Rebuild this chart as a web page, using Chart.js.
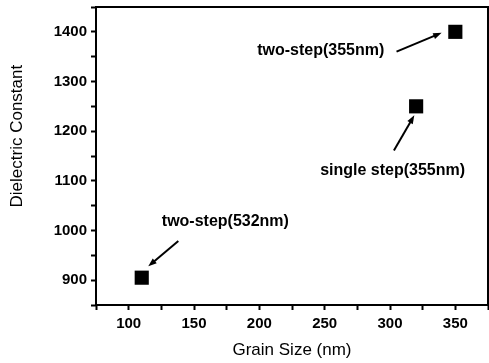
<!DOCTYPE html>
<html lang="en">
  <head>
    <meta charset="UTF-8" />
    <script src="https://cdn.jsdelivr.net/npm/chart.js@4"></script>
    <title>Dielectric constant vs grain size</title>
    <style>
      html, body { margin: 0; padding: 0; background: #fff; overflow: hidden; }
      /* canvas is a bit larger than the window: Chart.js keeps spare room on the
         right and on top for the tick labels, the original frame goes to the edge */
      #wrap { width: 489px; height: 363px; overflow: hidden; }
      #myChart { display: block; margin-top: -6px; }
    </style>
  </head>
  <body>
    <div id="wrap"><canvas id="myChart" width="498" height="369"></canvas></div>
    <script>
      // values
      const grainSize = [110, 320, 350];
      const dielectric = [905, 1250, 1400];
      const sampleNames = ["two-step(532nm)", "single step(355nm)", "two-step(355nm)"];
      // where each label sits and where its arrow runs (data units)
      const labelAt = [[174, 1017], [302, 1121], [247, 1362]];
      const arrowFrom = [[138, 979], [303, 1161], [305, 1360]];
      const arrowTo = [[115, 928], [318.6, 1232], [339.5, 1398]];
      const yTitle = "Dielectric Constant";

      const font = '"Liberation Sans", Arial, sans-serif';

      const frame = {
        id: "frame",
        afterDatasetsDraw(chart) {
          const { ctx, chartArea: a, scales } = chart;
          ctx.save();
          ctx.strokeStyle = "#000";
          ctx.lineWidth = 2;
          ctx.strokeRect(a.left, a.top, a.right - a.left, a.bottom - a.top);

          ctx.fillStyle = "#000";
          ctx.textAlign = "center";
          ctx.textBaseline = "middle";

          // y axis title, sits a bit above the middle in the original
          ctx.save();
          ctx.translate(17, scales.y.getPixelForValue(1190));
          ctx.rotate(-Math.PI / 2);
          ctx.font = "17px " + font;
          ctx.fillText(yTitle, 0, 0);
          ctx.restore();

          ctx.font = "bold 16px " + font;
          sampleNames.forEach((name, i) => {
            ctx.fillText(name, scales.x.getPixelForValue(labelAt[i][0]), scales.y.getPixelForValue(labelAt[i][1]));
            const x0 = scales.x.getPixelForValue(arrowFrom[i][0]);
            const y0 = scales.y.getPixelForValue(arrowFrom[i][1]);
            const x1 = scales.x.getPixelForValue(arrowTo[i][0]);
            const y1 = scales.y.getPixelForValue(arrowTo[i][1]);
            const ang = Math.atan2(y1 - y0, x1 - x0);
            ctx.lineWidth = 2;
            ctx.beginPath();
            ctx.moveTo(x0, y0);
            ctx.lineTo(x1 - 6 * Math.cos(ang), y1 - 6 * Math.sin(ang));
            ctx.stroke();
            ctx.beginPath();
            ctx.moveTo(x1, y1);
            ctx.lineTo(x1 - 9 * Math.cos(ang - 0.35), y1 - 9 * Math.sin(ang - 0.35));
            ctx.lineTo(x1 - 9 * Math.cos(ang + 0.35), y1 - 9 * Math.sin(ang + 0.35));
            ctx.closePath();
            ctx.fill();
          });
          ctx.restore();
        }
      };

      const ctx = document.getElementById("myChart").getContext("2d");
      new Chart(ctx, {
        type: "scatter",
        data: {
          datasets: [{
            data: grainSize.map((x, i) => ({ x: x, y: dielectric[i] })),
            pointStyle: "rect",
            pointRadius: 10,
            pointHoverRadius: 10,
            backgroundColor: "#000",
            borderColor: "#000",
            borderWidth: 0
          }]
        },
        options: {
          responsive: false,
          animation: false,
          events: [],
          layout: { padding: { top: 7, right: 1, left: 0, bottom: 2 } },
          plugins: { legend: { display: false }, tooltip: { enabled: false } },
          scales: {
            x: {
              type: "linear",
              min: 75,
              max: 375,
              afterFit(s) { s.height = 56; },
              border: { display: false },
              grid: { drawOnChartArea: false, tickLength: 5, tickWidth: 2, tickColor: "#000" },
              ticks: {
                stepSize: 25,
                autoSkip: false,
                maxRotation: 0,
                padding: 5,
                color: "#000",
                font: { family: font, size: 15, weight: "bold" },
                callback: v => (v % 50 === 0 && v > 75 && v < 375 ? v : "")
              },
              title: {
                display: true,
                text: "Grain Size (nm)",
                color: "#000",
                padding: { top: 2, bottom: 0 },
                font: { family: font, size: 17 }
              }
            },
            y: {
              type: "linear",
              min: 850,
              max: 1450,
              afterFit(s) { s.width = 96; },
              border: { display: false },
              grid: { drawOnChartArea: false, tickLength: 5, tickWidth: 2, tickColor: "#000" },
              ticks: {
                stepSize: 50,
                autoSkip: false,
                padding: 4,
                color: "#000",
                font: { family: font, size: 15, weight: "bold" },
                callback: v => (v % 100 === 0 ? v : "")
              }
            }
          }
        },
        plugins: [frame]
      });
    </script>
  </body>
</html>
